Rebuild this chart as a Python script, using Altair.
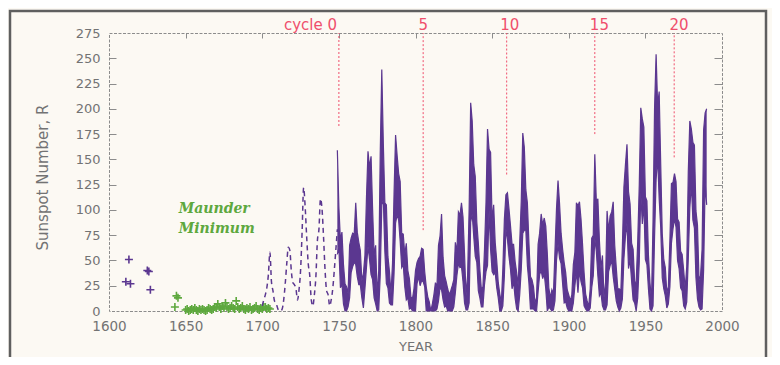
import altair as alt
import pandas as pd

# ---------------- data ----------------
band_years = list(range(1749, 1991))
monthly_max = [
    159, 103, 70, 78, 46, 27, 24, 17, 65, 72,
    77, 76, 107, 78, 68, 60, 30, 37, 55, 112,
    158, 142, 153, 101, 55, 65, 15, 40, 157, 239,
    166, 107, 105, 54, 39, 17, 47, 116, 174, 154,
    136, 128, 77, 76, 56, 67, 40, 32, 14, 12,
    22, 40, 48, 52, 54, 62, 61, 39, 24, 14,
    9, 0, 7, 16, 28, 24, 65, 74, 96, 53,
    35, 29, 22, 16, 20, 25, 31, 68, 58, 98,
    95, 107, 93, 56, 15, 35, 101, 206, 188, 145,
    133, 88, 67, 41, 21, 24, 60, 107, 180, 160,
    157, 89, 105, 68, 50, 28, 17, 8, 42, 91,
    115, 117, 101, 84, 66, 66, 49, 38, 25, 68,
    108, 176, 162, 120, 107, 68, 34, 31, 24, 8,
    13, 66, 77, 96, 85, 92, 84, 57, 23, 13,
    21, 17, 59, 101, 129, 106, 77, 61, 48, 38,
    21, 16, 10, 16, 46, 58, 107, 104, 108, 91,
    66, 38, 17, 10, 4, 22, 72, 75, 155, 108,
    111, 70, 42, 55, 13, 28, 99, 79, 94, 98,
    108, 65, 43, 22, 22, 20, 64, 123, 145, 165,
    118, 106, 67, 61, 29, 28, 69, 124, 201, 190,
    182, 113, 109, 55, 28, 11, 89, 201, 254, 203,
    217, 146, 77, 51, 43, 18, 24, 70, 126, 127,
    136, 128, 91, 88, 59, 56, 40, 22, 44, 138,
    188, 180, 167, 164, 99, 85, 31, 35, 61, 179,
    196, 200,
]
monthly_min = [
    56, 63, 23, 27, 7, 0, 0, 4, 13, 38,
    44, 48, 46, 34, 26, 26, 13, 3, 22, 43,
    64, 51, 36, 31, 13, 7, 0, 1, 36, 105,
    110, 59, 27, 23, 8, 6, 6, 37, 87, 95,
    90, 69, 43, 46, 24, 11, 13, 2, 3, 0,
    0, 0, 27, 34, 25, 30, 29, 24, 0, 0,
    0, 0, 0, 0, 0, 2, 10, 23, 21, 11,
    4, 5, 0, 0, 0, 0, 4, 18, 35, 47,
    43, 44, 29, 8, 1, 1, 8, 88, 96, 74,
    54, 48, 20, 13, 4, 4, 26, 39, 45, 100,
    61, 39, 36, 38, 23, 13, 0, 0, 5, 35,
    81, 71, 54, 41, 22, 29, 13, 2, 0, 16,
    41, 77, 80, 80, 45, 28, 2, 2, 2, 0,
    0, 19, 36, 40, 32, 37, 22, 0, 4, 2,
    0, 1, 10, 50, 66, 52, 47, 27, 8, 9,
    3, 0, 0, 0, 8, 25, 39, 18, 40, 29,
    23, 5, 2, 0, 0, 3, 23, 35, 72, 59,
    35, 15, 18, 5, 1, 1, 6, 39, 45, 50,
    34, 22, 10, 4, 0, 3, 12, 52, 74, 87,
    42, 51, 30, 11, 8, 0, 13, 48, 117, 86,
    106, 51, 46, 22, 2, 0, 5, 74, 130, 152,
    111, 83, 33, 22, 15, 3, 7, 24, 67, 81,
    91, 83, 50, 42, 23, 20, 5, 2, 9, 52,
    102, 126, 90, 82, 33, 12, 4, 1, 2, 40,
    127, 105,
]

early_years = list(range(1700, 1750))
early_values = [
    5, 11, 16, 23, 36, 58, 29, 20, 10, 8,
    3, 0, 0, 2, 11, 27, 47, 63, 60, 39,
    28, 26, 22, 11, 21, 40, 78, 122, 103, 73,
    47, 35, 11, 5, 16, 34, 70, 81, 111, 101,
    73, 40, 20, 16, 5, 11, 22, 40, 60, 80.9,
]

pre_years = [1611, 1613, 1614, 1625, 1626, 1627]
pre_values = [29, 51, 27, 40, 39, 21]

maunder_years = [1643, 1644, 1645] + list(range(1650, 1706))
maunder_values = [4, 15, 13] + [
    1, 2, 0, 1, 2, 1, 3, 1, 0, 2,
    1, 2, 1, 0, 1, 3, 2, 1, 2, 4,
    3, 7, 4, 2, 5, 3, 8, 4, 2, 3,
    5, 3, 2, 10, 4, 2, 3, 5, 2, 1,
    3, 2, 4, 1, 2, 3, 5, 2, 1, 3,
    2, 4, 4, 2, 3, 2,
]

cycle_labels = ["cycle 0", "5", "10", "15", "20"]
cycle_years = [1750, 1805, 1859.5, 1917, 1968.8]
cycle_line_bottom = [183, 80, 135, 175, 152]
cycle_label_x = [1731.5, 1805, 1861.5, 1920, 1972]

note_lines = ["Maunder", "Minimum"]
note_x = [1645.5, 1645.5]
note_y = [101, 81]

y_ticks = list(range(0, 276, 25))
inner_y_ticks = list(range(25, 251, 25))
x_ticks = list(range(1600, 2001, 50))
inner_x_ticks = list(range(1650, 1951, 50))

# ---------------- styling ----------------
W, H = 613, 278
PURPLE = "#5b3790"
RED = "#ef4f6c"
GREEN = "#5ea83e"
GRAY = "#737373"
FRAME = "#8c8c8c"
BG = "#fcf9f3"
FONT = "DejaVu Sans"

xs = alt.Scale(domain=[1600, 2000], nice=False, zero=False, padding=0)
ys = alt.Scale(domain=[0, 275], nice=False, zero=False, padding=0)

band_df = pd.DataFrame({"year": band_years, "hi": monthly_max, "lo": monthly_min})
early_df = pd.DataFrame({"year": early_years, "r": early_values})
pre_df = pd.DataFrame({"year": pre_years, "r": pre_values})
maunder_df = pd.DataFrame({"year": maunder_years, "r": maunder_values})
cycle_df = pd.DataFrame({"label": cycle_labels, "year": cycle_years,
                         "bottom": cycle_line_bottom, "lx": cycle_label_x})
note_df = pd.DataFrame({"t": note_lines, "x": note_x, "y": note_y})
frame_df = pd.DataFrame({"k": [0]})

label_x_axis = alt.Axis(orient="bottom", values=x_ticks, ticks=False, domain=False,
                        labelPadding=8, labelFlush=False, labelFontSize=13.5,
                        format="d", title="YEAR", titleY=35, titleBaseline="middle",
                        titleFontSize=13)
label_y_axis = alt.Axis(orient="left", values=y_ticks, ticks=False, domain=False,
                        labelPadding=9, labelFlush=False, labelFontSize=13,
                        title="Sunspot Number, R", titleX=-67, titleY=144,
                        titleAlign="center", titleBaseline="middle")
tick_left_in = alt.Axis(orient="right", offset=-W, values=inner_y_ticks, labels=False,
                        domain=False, tickSize=7, title=None)
tick_right_in = alt.Axis(orient="left", offset=-W, values=inner_y_ticks, labels=False,
                         domain=False, tickSize=8, title=None)
tick_top_in = alt.Axis(orient="bottom", offset=-H, values=inner_x_ticks, labels=False,
                       domain=False, tickSize=5, title=None)

outer_frame = alt.Chart(frame_df).mark_rect(
    filled=False, stroke="#5f5f5f", strokeWidth=2.5
).encode(x=alt.value(-99), x2=alt.value(657), y=alt.value(-22), y2=alt.value(420))

rules = alt.Chart(cycle_df).mark_rule(color=RED, strokeDash=[2, 2], strokeWidth=1).encode(
    x=alt.X("year:Q", scale=xs, axis=None),
    y=alt.Y("bottom:Q", scale=ys, axis=None),
    y2=alt.datum(275),
)

cycle_text = alt.Chart(cycle_df).mark_text(
    color=RED, font=FONT, fontSize=15, align="center", baseline="alphabetic"
).encode(
    x=alt.X("lx:Q", scale=xs, axis=None),
    y=alt.value(-3),
    text="label:N",
)

note_text = alt.Chart(note_df).mark_text(
    color=GREEN, font="DejaVu Serif", fontSize=14, fontStyle="italic",
    fontWeight="bold", align="left", baseline="middle"
).encode(
    x=alt.X("x:Q", scale=xs, axis=None),
    y=alt.Y("y:Q", scale=ys, axis=None),
    text="t:N",
)

CROSS = "M-1,0L1,0M0,-1L0,1"
pre_pts = alt.Chart(pre_df).mark_point(
    shape=CROSS, filled=False, color=PURPLE, strokeWidth=1.6, size=64, opacity=1
).encode(
    x=alt.X("year:Q", scale=xs, axis=None),
    y=alt.Y("r:Q", scale=ys, axis=None),
)

maunder_pts = alt.Chart(maunder_df).mark_point(
    shape=CROSS, filled=False, color=GREEN, strokeWidth=1.6, size=64, opacity=1
).encode(
    x=alt.X("year:Q", scale=xs, axis=None),
    y=alt.Y("r:Q", scale=ys, axis=None),
)

early_line = alt.Chart(early_df).mark_line(
    color=PURPLE, strokeDash=[5, 4], strokeWidth=1.5, interpolate="monotone"
).encode(
    x=alt.X("year:Q", scale=xs, axis=None),
    y=alt.Y("r:Q", scale=ys, axis=None),
)

band = alt.Chart(band_df).mark_area(color=PURPLE, opacity=1).encode(
    x=alt.X("year:Q", scale=xs, axis=label_x_axis),
    y=alt.Y("lo:Q", scale=ys, axis=label_y_axis),
    y2="hi:Q",
)

band_hi = alt.Chart(band_df).mark_line(color=PURPLE, strokeWidth=1.2).encode(
    x=alt.X("year:Q", scale=xs, axis=tick_top_in),
    y=alt.Y("hi:Q", scale=ys, axis=tick_left_in),
)

band_lo = alt.Chart(band_df).mark_line(color=PURPLE, strokeWidth=1.2).encode(
    x=alt.X("year:Q", scale=xs, axis=None),
    y=alt.Y("lo:Q", scale=ys, axis=tick_right_in),
)

chart = alt.layer(
    outer_frame, rules, cycle_text, note_text, pre_pts, maunder_pts,
    early_line, band, band_hi, band_lo,
).resolve_axis(
    x="independent", y="independent"
).properties(
    width=W, height=H,
    autosize=alt.AutoSizeParams(type="none"),
    padding={"left": 101, "top": 25, "right": 50, "bottom": 46},
    background=BG,
).configure_axis(
    grid=False, labelFont=FONT, labelFontSize=14, labelColor=GRAY,
    titleFont=FONT, titleFontSize=15, titleColor=GRAY, titleFontWeight="normal",
    tickColor=FRAME, tickWidth=1,
).configure_view(
    stroke=FRAME, strokeWidth=1, strokeDash=[3, 1.5],
)

chart.save("out.html", embed_options={"renderer": "svg", "actions": False})
